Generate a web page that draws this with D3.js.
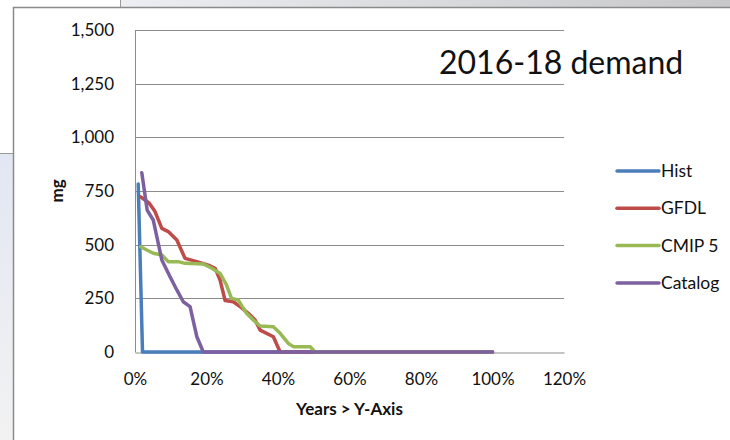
<!DOCTYPE html>
<html>
<head>
<meta charset="utf-8">
<script src="https://cdn.jsdelivr.net/npm/d3@7/dist/d3.min.js"></script>
<style>
  html, body { margin: 0; padding: 0; background: #fff; }
  svg { display: block; }
  text { font-family: Lato, "Open Sans", sans-serif; fill: #111; }
</style>
</head>
<body>
<svg id="chart" width="730" height="440"></svg>
<script>
// Share of years (%) against demand (mg), sorted from highest to lowest.
const seriesNames = ["Hist", "GFDL", "CMIP 5", "Catalog"];
const seriesColors = ["#4a7ebb", "#be4b48", "#98b954", "#7d60a0"];

const histPct = [0.9, 2.1, 10, 20, 40, 60, 80, 100];
const histMg  = [783, 0, 0, 0, 0, 0, 0, 0];

const gfdlPct = [1.6, 4.0, 5.6, 7.5, 9.3, 11.7, 14.0, 17.3, 20.5, 22.4, 23.8, 25.2, 27.5, 29.4, 31.7, 33.6, 35.0, 38.7, 40.6, 60, 80, 100];
const gfdlMg  = [723, 693, 654, 576, 561, 522, 436, 421, 405, 390, 335, 240, 234, 211, 180, 149, 102, 71, 0, 0, 0, 0];

const cmipPct = [1.6, 3.3, 5.1, 7.5, 9.3, 12.1, 14.0, 19.1, 21.5, 23.8, 25.6, 27.0, 28.9, 31.2, 33.1, 35.0, 38.7, 40.6, 42.9, 44.3, 49.0, 50.3, 70, 100];
const cmipMg  = [490, 475, 460, 452, 421, 421, 413, 410, 390, 366, 312, 250, 242, 180, 149, 121, 118, 87, 40, 25, 25, 0, 0, 0];

const catalogPct = [1.9, 3.4, 5.1, 7.5, 9.8, 11.7, 13.5, 15.4, 17.3, 19.1, 40, 60, 80, 100];
const catalogMg  = [835, 661, 615, 429, 351, 289, 234, 211, 71, 0, 0, 0, 0, 0];

const xTicks = [0, 20, 40, 60, 80, 100, 120];
const yTicks = [0, 250, 500, 750, 1000, 1250, 1500];

const chartTitle = "2016-18 demand";
const xTitle = "Years > Y-Axis";
const yTitle = "mg";

const seriesData = [
  { name: seriesNames[0], color: seriesColors[0], pct: histPct, mg: histMg },
  { name: seriesNames[1], color: seriesColors[1], pct: gfdlPct, mg: gfdlMg },
  { name: seriesNames[2], color: seriesColors[2], pct: cmipPct, mg: cmipMg },
  { name: seriesNames[3], color: seriesColors[3], pct: catalogPct, mg: catalogMg }
];

const svg = d3.select("#chart");

// Slide backdrop around the chart frame
const defs = svg.append("defs");
const topGrad = defs.append("linearGradient").attr("id", "topStrip").attr("x1", 0).attr("x2", 1).attr("y1", 0).attr("y2", 0);
topGrad.append("stop").attr("offset", 0).attr("stop-color", "#eceef3");
topGrad.append("stop").attr("offset", 1).attr("stop-color", "#c8c8ca");
const leftGrad = defs.append("linearGradient").attr("id", "leftStrip").attr("x1", 0).attr("x2", 0).attr("y1", 0).attr("y2", 1);
leftGrad.append("stop").attr("offset", 0).attr("stop-color", "#e2e7f3");
leftGrad.append("stop").attr("offset", 1).attr("stop-color", "#f2f2f2");

svg.append("rect").attr("width", 730).attr("height", 440).attr("fill", "#fff");
svg.append("rect").attr("x", 120).attr("y", 0).attr("width", 610).attr("height", 7).attr("fill", "url(#topStrip)");
svg.append("line").attr("x1", 120.5).attr("x2", 120.5).attr("y1", 0).attr("y2", 7).attr("stroke", "#9a9a9a");
svg.append("rect").attr("x", 0).attr("y", 154).attr("width", 13).attr("height", 286).attr("fill", "url(#leftStrip)");
svg.append("line").attr("x1", 0).attr("x2", 13).attr("y1", 153.5).attr("y2", 153.5).attr("stroke", "#9a9a9a");
svg.append("path").attr("d", "M13.5,440V7.5H730").attr("fill", "none").attr("stroke", "#8a8a8a").attr("stroke-width", 1.5);

// Plot scales
const x = d3.scaleLinear().domain([0, 120]).range([135, 564]);
const y = d3.scaleLinear().domain([0, 1500]).range([352, 30]);

// Horizontal gridlines
svg.append("g")
  .selectAll("line")
  .data(yTicks.filter(d => d > 0))
  .join("line")
  .attr("x1", x(0)).attr("x2", x(120))
  .attr("y1", d => Math.round(y(d)) + 0.5).attr("y2", d => Math.round(y(d)) + 0.5)
  .attr("stroke", "#8c8c8c").attr("stroke-width", 1);

// Axes
const yAxis = svg.append("g")
  .attr("transform", `translate(${x(0)},0)`)
  .call(d3.axisLeft(y).tickValues(yTicks).tickFormat(d3.format(",")).tickSize(0).tickPadding(21));
yAxis.select(".domain").attr("stroke", "#8c8c8c");
yAxis.selectAll("text").style("font-family", "Lato, 'Open Sans', sans-serif").style("font-size", "17px").attr("fill", "#1a1a1a");

const xAxis = svg.append("g")
  .attr("transform", `translate(0,${Math.round(y(0)) + 0.5})`)
  .call(d3.axisBottom(x).tickValues(xTicks).tickFormat(d => d + "%").tickSize(0).tickPadding(20));
xAxis.select(".domain").attr("stroke", "#8c8c8c");
xAxis.selectAll("text").style("font-family", "Lato, 'Open Sans', sans-serif").style("font-size", "17px").attr("fill", "#1a1a1a");

// Series lines
const line = d3.line()
  .x(d => x(d[0]))
  .y(d => y(d[1]));

svg.append("g")
  .selectAll("path")
  .data(seriesData)
  .join("path")
  .attr("d", s => line(s.pct.map((p, i) => [p, s.mg[i]])))
  .attr("fill", "none")
  .attr("stroke", s => s.color)
  .attr("stroke-width", 3.5)
  .attr("stroke-linejoin", "round")
  .attr("stroke-linecap", "round");

// Titles
svg.append("text")
  .attr("x", 439).attr("y", 74)
  .style("font-size", "32px")
  .attr("fill", "#000")
  .text(chartTitle);

svg.append("text")
  .attr("x", (x(0) + x(120)) / 2).attr("y", 415)
  .attr("text-anchor", "middle")
  .style("font-size", "17px").style("font-weight", "bold")
  .text(xTitle);

svg.append("text")
  .attr("transform", `translate(63,${(y(0) + y(1500)) / 2}) rotate(-90)`)
  .attr("text-anchor", "middle")
  .style("font-size", "17px").style("font-weight", "bold")
  .text(yTitle);

// Legend
const legend = svg.append("g")
  .selectAll("g")
  .data(seriesData)
  .join("g")
  .attr("transform", (s, i) => `translate(617,${171 + i * 37.3})`);
legend.append("line")
  .attr("x1", 0).attr("x2", 42).attr("y1", 0).attr("y2", 0)
  .attr("stroke", s => s.color).attr("stroke-width", 3.5).attr("stroke-linecap", "round");
legend.append("text")
  .attr("x", 44).attr("y", 0).attr("dy", "0.35em")
  .style("font-size", "17.5px")
  .text(s => s.name);
</script>
</body>
</html>
